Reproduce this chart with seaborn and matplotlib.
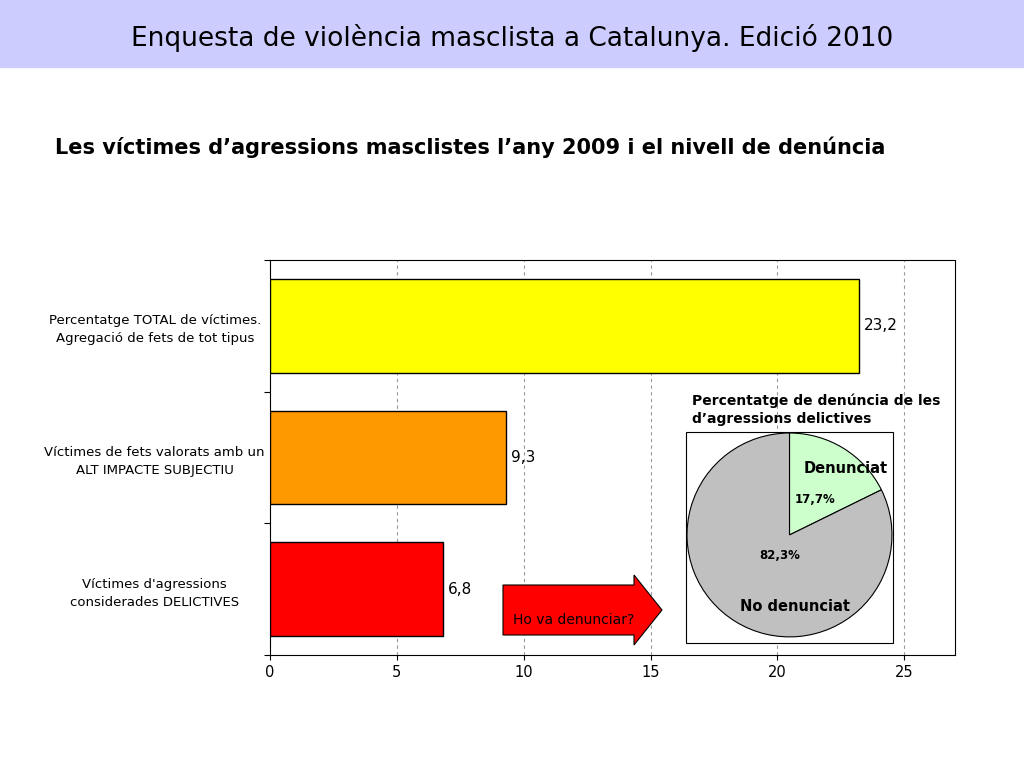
import numpy as np
import pandas as pd
import matplotlib
matplotlib.use("Agg")
import matplotlib.pyplot as plt
import matplotlib.patches as mpatches
import seaborn as sns

categories = [
    "Percentatge TOTAL de víctimes.\nAgregació de fets de tot tipus",
    "Víctimes de fets valorats amb un\nALT IMPACTE SUBJECTIU",
    "Víctimes d'agressions\nconsiderades DELICTIVES",
]
values = [23.2, 9.3, 6.8]
bar_colors = ["#FFFF00", "#FF9900", "#FF0000"]
value_labels = ["23,2", "9,3", "6,8"]

pie_labels = ["Denunciat", "No denunciat"]
pie_values = [17.7, 82.3]
pie_pct = ["17,7%", "82,3%"]
pie_colors = ["#CCFFCC", "#C0C0C0"]

W, H = 1024, 768
fig = plt.figure(figsize=(W / 100, H / 100), dpi=100)

def fx(px):
    return px / W

def fy(py):
    return 1 - py / H

# banner
fig.patches.append(mpatches.Rectangle((0, fy(67)), 1, 67 / H, transform=fig.transFigure,
                                      color="#CCCCFF", zorder=0))
fig.text(fx(512), fy(38), "Enquesta de violència masclista a Catalunya. Edició 2010",
         ha="center", va="center", fontsize=19)
fig.text(fx(55), fy(147), "Les víctimes d’agressions masclistes l’any 2009 i el nivell de denúncia",
         ha="left", va="center", fontsize=15, fontweight="bold")

# bar chart
ax = fig.add_axes([fx(270), fy(655), (955 - 270) / W, (655 - 260) / H])
df = pd.DataFrame({"cat": categories, "val": values})
sns.barplot(data=df, y="cat", x="val", hue="cat", palette=bar_colors, orient="h",
            width=0.71, edgecolor="black", linewidth=1, ax=ax, legend=False, zorder=3,
            saturation=1)
ax.set_xlim(0, 27)
ax.set_xticks([0, 5, 10, 15, 20, 25])
ax.set_ylim(2.5, -0.5)
ax.set_yticks([-0.5, 0.5, 1.5, 2.5], minor=False)
ax.set_yticklabels([])
ax.set_yticks([0, 1, 2], minor=True)
ax.set_yticklabels(categories, minor=True, fontsize=9.5, ha="center", linespacing=1.5)
ax.tick_params(axis="y", which="minor", length=0, pad=83)
ax.tick_params(axis="y", which="major", length=4)
ax.tick_params(axis="x", labelsize=10.5)
ax.set_xlabel("")
ax.set_ylabel("")
for x in [5, 10, 15, 20, 25]:
    ax.axvline(x, color="#999999", ls=(0, (3, 3)), lw=0.8, zorder=1)
for i, (v, t) in enumerate(zip(values, value_labels)):
    ax.text(v + 0.2, i, t, va="center", ha="left", fontsize=11)
for s in ax.spines.values():
    s.set_color("black")

# arrow
arr = mpatches.FancyArrow(fx(503), fy(610), fx(662) - fx(503), 0, width=50 / H,
                          head_width=70 / H, head_length=fx(28), length_includes_head=True,
                          transform=fig.transFigure, facecolor="#FF0000", edgecolor="black",
                          lw=0.8, zorder=10)
fig.patches.append(arr)
fig.text(fx(574), fy(620), "Ho va denunciar?", ha="center", va="center", fontsize=10, zorder=11)

# pie inset
fig.patches.append(mpatches.Rectangle((fx(686), fy(643)), (893 - 686) / W, (643 - 432) / H,
                                      transform=fig.transFigure, facecolor="white",
                                      edgecolor="black", lw=0.8, zorder=5))
pax = fig.add_axes([fx(686), fy(643), (893 - 686) / W, (643 - 432) / H], zorder=6)
pax.patch.set_alpha(0)
pax.pie(pie_values, colors=pie_colors, startangle=90, counterclock=False,
        wedgeprops=dict(edgecolor="black", linewidth=0.8), radius=1.0)
pax.set_xlim(-1.01, 1.01)
pax.set_ylim(-1.06, 1.01)
pax.set_aspect("auto")
pax.axis("off")
pax.text(0.55, 0.65, pie_labels[0], ha="center", va="center", fontsize=10.5, fontweight="bold")
pax.text(0.25, 0.35, pie_pct[0], ha="center", va="center", fontsize=8.5, fontweight="bold")
pax.text(-0.1, -0.2, pie_pct[1], ha="center", va="center", fontsize=8.5, fontweight="bold")
pax.text(0.05, -0.7, pie_labels[1], ha="center", va="center", fontsize=10.5, fontweight="bold")
fig.text(fx(692), fy(410), "Percentatge de denúncia de les\nd’agressions delictives",
         ha="left", va="center", fontsize=10, fontweight="bold", linespacing=1.4)

fig.savefig("out.png", dpi=100)
